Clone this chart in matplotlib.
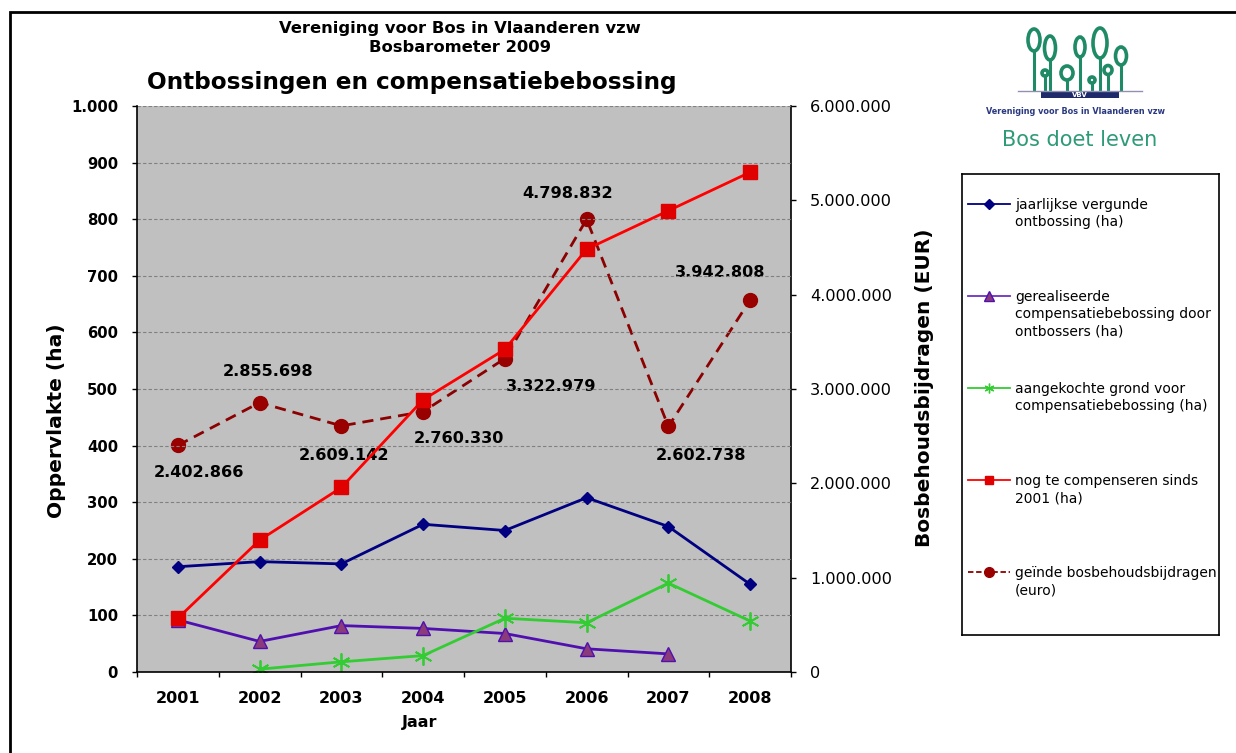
import numpy as np
import matplotlib
matplotlib.use("Agg")
import matplotlib.pyplot as plt
from matplotlib.ticker import FuncFormatter, FixedLocator
from matplotlib.patches import Rectangle, Ellipse
from matplotlib.lines import Line2D

# data
jaren = ['2001', '2002', '2003', '2004', '2005', '2006', '2007', '2008']
vergunde_ontbossing = [186, 195, 191, 261, 250, 308, 257, 155]
gerealiseerde_comp = [92, 54, 82, 77, 68, 41, 32, None]
aangekochte_grond = [None, 5, 18, 29, 95, 87, 157, 90]
nog_te_compenseren = [95, 233, 326, 481, 570, 747, 815, 883]
bosbehoud_euro = [2402866, 2855698, 2609142, 2760330, 3322979, 4798832, 2602738, 3942808]

legend_labels = ['jaarlijkse vergunde\nontbossing (ha)',
                 'gerealiseerde\ncompensatiebebossing door\nontbossers (ha)',
                 'aangekochte grond voor\ncompensatiebebossing (ha)',
                 'nog te compenseren sinds\n2001 (ha)',
                 'ge\u00efnde bosbehoudsbijdragen\n(euro)']

# label offsets (pixels, right / up) for the euro data labels
label_offsets = [(21, -27), (8, 31), (3, -30), (36, -27), (46, -28), (-19, 26), (33, -29), (-30, 28)]


def nl(v, pos=None):
    return f"{int(round(v)):,}".replace(",", ".")


def arr(vals):
    return np.array([np.nan if v is None else v for v in vals], dtype=float)


W, H = 1236, 753
fig = plt.figure(figsize=(W / 100, H / 100), dpi=100)
plt.rcParams['font.family'] = ['DejaVu Sans']

def px(x0, y0, x1, y1):
    return [x0 / W, 1 - y1 / H, (x1 - x0) / W, (y1 - y0) / H]

ax2 = fig.add_axes(px(137, 106, 791, 672))
ax = fig.add_axes(px(137, 106, 791, 672), sharex=ax2)
ax.set_zorder(ax2.get_zorder() + 1)
ax.patch.set_visible(False)
ax2.set_facecolor('#C0C0C0')

x = np.arange(len(jaren))

ax.plot(x, arr(vergunde_ontbossing), color='#000080', lw=2, marker='D', ms=6.5,
        mfc='#000080', mec='#000080')
ax.plot(x, arr(gerealiseerde_comp), color='#5010B0', lw=2, marker='^', ms=10,
        mfc='#8B3A7A', mec='#5010B0')
ax.plot(x, arr(aangekochte_grond), color='#33CC33', lw=2, marker=(6, 2, 0), ms=13,
        mec='#33CC33', mew=1.3)
ax.plot(x, arr(nog_te_compenseren), color='#FF0000', lw=2, marker='s', ms=10,
        mfc='#E00000', mec='#E00000')

ax2.plot(x, bosbehoud_euro, color='#8B0000', lw=2, ls=(0, (4, 2.5)), marker='o', ms=10,
         mfc='#990000', mec='#990000')
for xi, v, (dx, dy) in zip(x, bosbehoud_euro, label_offsets):
    ax2.annotate(nl(v), (xi, v), xytext=(dx * 0.72, dy * 0.72), textcoords='offset points',
                 ha='center', va='center', fontsize=11.6, fontweight='bold', color='black')

# axes
ax.set_xlim(-0.5, len(jaren) - 0.5)
ax.set_ylim(0, 1000)
ax2.set_ylim(0, 6000000)
ax.set_yticks(np.arange(0, 1001, 100))
ax.yaxis.set_major_formatter(FuncFormatter(nl))
ax2.set_yticks(np.arange(0, 6000001, 1000000))
ax2.yaxis.set_major_formatter(FuncFormatter(nl))
ax2.yaxis.tick_right()

ax.set_xticks(x)
ax.set_xticklabels(jaren)
ax.xaxis.set_minor_locator(FixedLocator(np.arange(-0.5, len(jaren), 1.0)))
ax.tick_params(axis='x', which='major', length=0, pad=13.5, labelsize=11.5)
ax.tick_params(axis='x', which='minor', length=3.6, width=1, direction='out')
ax.tick_params(axis='y', length=3.6, width=1, direction='out', labelsize=10.7, pad=10)
for t in ax.get_xticklabels() + ax.get_yticklabels():
    t.set_fontweight('bold')
ax2.tick_params(axis='y', length=3.6, width=1, direction='out', labelsize=11.6, pad=10)
ax2.tick_params(axis='x', bottom=False, labelbottom=False)

ax.grid(axis='y', color='#808080', ls=(0, (3, 2)), lw=0.8)
ax.set_axisbelow(True)
for a in (ax, ax2):
    a.spines['top'].set_visible(False)
ax.spines['right'].set_visible(False)
ax2.spines['left'].set_visible(False)
ax2.spines['bottom'].set_visible(False)
ax2.spines['right'].set_linewidth(1.2)
ax.spines['left'].set_linewidth(1.2)
ax.spines['bottom'].set_linewidth(1.2)

# titles and axis labels
fig.text(460 / W, 1 - 29 / H, 'Vereniging voor Bos in Vlaanderen vzw', ha='center', va='center',
         fontsize=11.8, fontweight='bold')
fig.text(460 / W, 1 - 48 / H, 'Bosbarometer 2009', ha='center', va='center',
         fontsize=11.8, fontweight='bold')
fig.text(412 / W, 1 - 83 / H, 'Ontbossingen en compensatiebebossing', ha='center', va='center',
         fontsize=16.7, fontweight='bold')
fig.text(57 / W, 1 - 421 / H, 'Oppervlakte (ha)', rotation=90, ha='center', va='center',
         fontsize=14.6, fontweight='bold')
fig.text(925 / W, 1 - 388 / H, 'Bosbehoudsbijdragen (EUR)', rotation=90, ha='center', va='center',
         fontsize=14.5, fontweight='bold')
fig.text(420 / W, 1 - 722 / H, 'Jaar', ha='center', va='center', fontsize=11.5, fontweight='bold')

# legend box
lg = fig.add_axes(px(962, 174, 1219, 635))
lg.set_xlim(0, 257)
lg.set_ylim(461, 0)
lg.set_xticks([])
lg.set_yticks([])
for s in lg.spines.values():
    s.set_linewidth(1.2)
handles = [dict(color='#000080', marker='D', ms=5, mfc='#000080', mec='#000080', ls='-'),
           dict(color='#7030C0', marker='^', ms=7, mfc='#8B3A7A', mec='#5010B0', ls='-'),
           dict(color='#33CC33', marker=(6, 2, 0), ms=7, mfc='#33CC33', mec='#33CC33', ls='-'),
           dict(color='#FF0000', marker='s', ms=6, mfc='#E00000', mec='#E00000', ls='-'),
           dict(color='#8B0000', marker='o', ms=7, mfc='#990000', mec='#990000', ls=(0, (3, 1.5)))]
for i, (lab, h) in enumerate(zip(legend_labels, handles)):
    yy = 30 + i * 92
    lg.add_line(Line2D([6, 48], [yy, yy], lw=1.3, color=h['color'], ls=h['ls']))
    lg.add_line(Line2D([27], [yy], lw=0, marker=h['marker'], ms=h['ms'],
                       mfc=h['mfc'], mec=h['mec']))
    lg.text(53, yy - 6.5, lab, ha='left', va='top', fontsize=10, linespacing=1.34)

# logo
lo = fig.add_axes(px(960, 20, 1180, 160))
lo.set_xlim(960, 1180)
lo.set_ylim(160, 20)
lo.axis('off')
green = '#1E8A66'
blobs = [(1034, 40, 12, 22), (1050, 48, 11, 24), (1045, 73, 6, 6), (1067, 73, 12, 14),
         (1080, 47, 10, 20), (1092, 80, 6, 6), (1100, 43, 14, 30), (1108, 70, 8, 9),
         (1121, 56, 11, 18)]
for cx, cy, w, h in blobs:
    lo.plot([cx, cx], [90, cy + h / 2], color=green, lw=2.2, solid_capstyle='round')
    lo.add_patch(Ellipse((cx, cy), w, h, fc='none', ec=green, lw=2.6))
lo.plot([1018, 1142], [91, 91], color='#9090B0', lw=1)
lo.add_patch(Rectangle((1041, 91), 78, 7, fc='#1F2A6B', ec='none'))
lo.text(1080, 94.7, 'VBV', color='white', fontsize=5, fontweight='bold', ha='center', va='center')
lo.text(1075, 111, 'Vereniging voor Bos in Vlaanderen vzw', color='#2B3A80', fontsize=5.85,
        fontweight='bold', ha='center', va='center')
lo.text(1080, 140, 'Bos doet leven', color='#2E9A78', fontsize=15, ha='center', va='center')

# outer frame
fig.patches.append(Rectangle((10 / W, -0.2), 2, 1.2 - 12 / H, transform=fig.transFigure,
                             fill=False, ec='black', lw=2))

fig.savefig('out.png', dpi=100)
